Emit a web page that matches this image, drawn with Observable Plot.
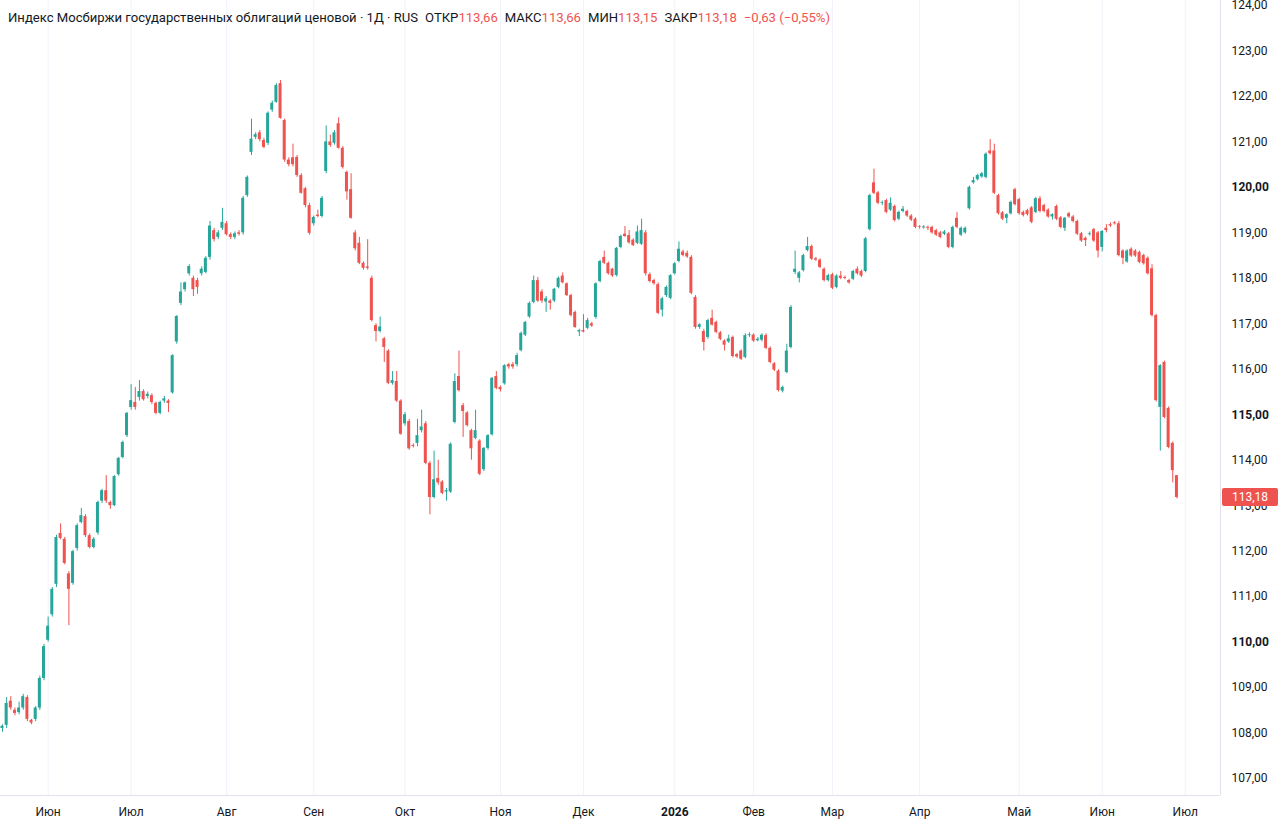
<!DOCTYPE html>
<html><head><meta charset="utf-8">
<script src="https://cdn.jsdelivr.net/npm/d3@7"></script>
<script src="https://cdn.jsdelivr.net/npm/@observablehq/plot@0.6"></script>
<style>
body{margin:0;background:#fff;font-family:Roboto,"Noto Sans",sans-serif;}
#wrap{position:relative;width:1280px;height:831px;overflow:hidden;}
#legend{position:absolute;left:8px;top:10px;font-size:13.1px;line-height:16px;color:#131722;white-space:nowrap;}
#legend .v{color:#ef5350;}
#legend .g{margin-left:7px;}
</style></head><body>
<div id="wrap"><div id="chart"></div>
<div id="legend">Индекс Мосбиржи государственных облигаций ценовой · 1Д · RUS<span class="g">ОТКР<span class="v">113,66</span></span><span class="g">МАКС<span class="v">113,66</span></span><span class="g">МИН<span class="v">113,15</span></span><span class="g">ЗАКР<span class="v">113,18</span></span><span class="g v">−0,63 (−0,55%)</span></div>
</div>
<script>
// OHLC rows [open, high, low, close], one daily candle per row, in trading order
const may2025 = [
[108.1,108.18,108.02,108.15],[108.17,108.78,108.1,108.65],[108.7,108.8,108.5,108.55],[108.5,108.55,108.38,108.43],
[108.45,108.68,108.4,108.55],[108.55,108.85,108.5,108.8],[108.78,108.82,108.25,108.3],[108.28,108.3,108.18,108.22],
[108.3,108.58,108.25,108.55],[108.55,109.25,108.5,109.2],[109.2,109.95,109.15,109.9]];
const jun2025 = [
[110.04,110.55,110.0,110.35],[110.6,111.2,110.55,111.16],[111.27,112.35,111.2,112.3],[112.39,112.6,112.25,112.28],
[112.26,112.3,111.7,111.73],[111.5,111.55,110.36,111.16],[111.29,112.02,111.25,111.99],[112.06,112.6,112.0,112.56],
[112.63,112.94,112.6,112.78],[112.76,112.8,112.3,112.34],[112.34,112.38,112.05,112.08],[112.08,112.3,112.05,112.26],
[112.4,113.1,112.35,113.07],[113.1,113.36,113.05,113.33],[113.33,113.66,113.05,113.1],[113.07,113.1,112.92,113.0],
[113.0,113.66,112.98,113.64],[113.68,114.06,113.65,114.04],[114.06,114.42,114.03,114.39],[114.54,115.05,114.5,115.03]];
const jul2025 = [
[115.16,115.66,115.1,115.31],[115.27,115.6,115.1,115.16],[115.38,115.75,115.3,115.51],[115.51,115.55,115.3,115.33],
[115.4,115.5,115.35,115.45],[115.42,115.46,115.22,115.27],[115.25,115.28,115.0,115.03],[115.03,115.3,115.0,115.27],
[115.3,115.4,115.25,115.35],[115.3,115.33,115.05,115.25],[115.48,116.32,115.45,116.3],[116.6,117.18,116.55,117.16],
[117.45,117.9,117.4,117.7],[117.75,117.92,117.7,117.9],[118.1,118.3,118.05,118.26],[118.0,118.05,117.6,117.75],
[117.95,118.0,117.65,117.8],[118.1,118.25,118.05,118.2],[118.13,118.48,118.1,118.44],[118.46,119.25,118.4,119.15],
[119.05,119.1,118.8,118.85],[118.9,119.05,118.85,119.0],[119.1,119.54,119.05,119.23]];
const aug2025 = [
[119.2,119.25,118.93,118.96],[118.96,119.0,118.85,118.9],[118.9,119.02,118.85,118.98],[119.0,119.05,118.93,118.97],
[119.0,119.8,118.95,119.76],[119.82,120.25,119.78,120.22],[120.77,121.5,120.7,121.06],[121.1,121.2,121.05,121.16],
[121.2,121.25,121.0,121.05],[121.03,121.08,120.85,120.88],[120.97,121.66,120.92,121.63],[121.7,121.9,121.65,121.85],
[121.87,122.28,121.85,122.24],[122.28,122.35,121.5,121.52],[121.47,121.5,120.55,120.6],[120.6,120.65,120.45,120.5],
[120.65,120.95,120.45,120.5],[120.66,120.7,120.22,120.26],[120.26,120.3,119.85,119.87],[119.97,120.0,119.55,119.6],
[119.6,119.65,118.95,118.99]];
const sep2025 = [
[119.2,119.37,119.15,119.34],[119.39,119.5,119.33,119.36],[119.36,119.8,119.33,119.76],[120.35,121.35,120.3,121.0],
[121.0,121.15,120.88,120.92],[120.97,121.25,120.93,121.2],[121.4,121.53,120.84,120.86],[120.86,120.9,120.4,120.44],
[120.33,120.36,119.72,119.9],[119.95,120.3,119.3,119.32],[119.0,119.05,118.6,118.65],[118.77,118.9,118.3,118.33],
[118.33,118.36,118.18,118.22],[118.25,118.85,118.18,118.22],[118.0,118.05,117.04,117.07],[116.96,117.0,116.6,116.83],
[116.83,117.15,116.8,116.93],[116.67,116.7,116.15,116.48],[116.4,116.43,115.66,115.69],[115.69,115.95,115.65,115.75],
[115.73,115.95,115.27,115.3],[115.3,115.33,114.55,114.57]];
const oct2025 = [
[114.8,115.05,114.75,115.0],[114.85,114.9,114.22,114.25],[114.32,114.36,114.27,114.3],[114.37,114.9,114.3,114.54],
[114.65,115.1,114.6,114.73],[114.8,114.85,113.9,113.93],[113.93,113.97,112.8,113.18],[113.18,114.2,113.15,113.57],
[113.6,114.0,113.45,113.5],[113.52,113.55,113.24,113.27],[113.3,113.38,113.1,113.33],[113.3,114.38,113.27,114.35],
[114.83,115.9,114.8,115.73],[115.84,116.4,115.5,115.53],[115.2,115.25,114.5,115.07],[115.04,115.07,114.73,114.76],
[114.65,114.68,114.0,114.25],[114.48,115.1,114.45,114.65],[114.42,114.45,113.66,113.69],[113.79,114.28,113.75,114.26],
[114.26,114.56,114.22,114.54],[114.56,115.82,114.53,115.8],[115.84,115.95,115.55,115.58]];
const nov2025 = [
[115.6,115.63,115.5,115.55],[115.68,116.1,115.65,116.08],[116.1,116.13,116.0,116.05],[116.1,116.15,116.0,116.05],
[116.1,116.35,116.05,116.3],[116.41,116.82,116.38,116.79],[116.75,117.05,116.72,117.03],[117.15,117.48,117.12,117.45],
[117.47,118.05,117.44,117.95],[117.95,118.02,117.47,117.5],[117.7,117.75,117.45,117.5],[117.48,117.6,117.25,117.55],
[117.5,117.53,117.3,117.45],[117.5,117.78,117.47,117.76],[117.8,118.03,117.77,118.0],[118.05,118.12,117.88,117.9],
[117.88,117.9,117.6,117.62],[117.62,117.65,117.15,117.18],[117.25,117.28,116.9,116.92],[116.82,116.88,116.72,116.85]];
const dec2025 = [
[116.85,117.2,116.8,116.82],[116.9,117.12,116.87,117.07],[117.0,117.03,116.92,116.95],[117.14,117.9,117.1,117.88],
[117.93,118.4,117.9,118.37],[118.46,118.6,118.3,118.33],[118.33,118.36,118.07,118.1],[118.2,118.22,118.02,118.05],
[118.06,118.68,118.03,118.66],[118.68,118.95,118.65,118.92],[118.97,119.14,118.9,118.92],[118.94,119.05,118.75,118.78],
[118.84,118.87,118.7,118.72],[118.77,119.15,118.74,119.02],[118.75,119.3,118.72,119.05],[119.0,119.05,118.05,118.1],
[118.08,118.12,117.9,117.93],[117.95,117.98,117.85,117.88],[117.86,117.9,117.2,117.23],[117.3,117.58,117.15,117.55],
[117.62,117.83,117.58,117.8],[117.56,118.08,117.53,118.06]];
const jan2026 = [
[118.1,118.35,118.07,118.32],[118.37,118.8,118.34,118.64],[118.58,118.62,118.47,118.5],[118.55,118.6,118.44,118.47],
[118.46,118.5,117.64,117.67],[117.58,117.62,116.88,116.92],[116.92,117.0,116.88,116.98],[116.83,116.88,116.4,116.59],
[116.7,117.1,116.66,117.07],[117.12,117.3,116.95,116.97],[117.03,117.06,116.78,116.81],[116.8,116.83,116.63,116.66],
[116.62,116.65,116.4,116.53],[116.6,116.75,116.57,116.67],[116.7,116.73,116.25,116.28],[116.32,116.35,116.24,116.27],
[116.4,116.43,116.19,116.22],[116.26,116.78,116.23,116.74],[116.74,116.8,116.7,116.76]];
const feb2026 = [
[116.75,116.78,116.59,116.62],[116.63,116.7,116.6,116.66],[116.64,116.78,116.6,116.75],[116.74,116.78,116.43,116.46],
[116.46,116.49,116.12,116.15],[116.12,116.15,115.95,115.98],[115.96,115.99,115.5,115.53],[115.52,115.63,115.48,115.6],
[115.93,116.55,115.9,116.4],[116.48,117.4,116.45,117.36],[118.13,118.6,118.08,118.2],[118.0,118.15,117.9,118.12],
[118.17,118.53,118.14,118.5],[118.61,118.9,118.58,118.7],[118.7,118.73,118.39,118.42],[118.43,118.46,118.37,118.4],
[118.4,118.43,118.21,118.24],[118.2,118.23,117.92,117.95],[117.95,118.09,117.92,118.06]];
const mar2026 = [
[118.08,118.11,117.75,117.78],[117.8,118.08,117.77,118.05],[118.05,118.15,117.97,118.0],[118.02,118.05,117.97,118.0],
[117.95,117.98,117.87,117.9],[117.98,118.18,117.95,118.15],[118.2,118.25,118.07,118.1],[118.15,118.18,118.02,118.05],
[118.15,118.9,118.12,118.87],[119.07,119.85,119.04,119.82],[120.1,120.4,119.84,119.87],[119.88,119.91,119.62,119.65],
[119.65,119.7,119.6,119.66],[119.71,119.74,119.42,119.45],[119.5,119.77,119.47,119.65],[119.58,119.61,119.24,119.27],
[119.3,119.48,119.27,119.45],[119.47,119.58,119.44,119.52],[119.47,119.5,119.34,119.37],[119.37,119.4,119.25,119.28],
[119.3,119.33,119.09,119.12]];
const apr2026 = [
[119.13,119.16,119.08,119.12],[119.11,119.16,119.08,119.13],[119.12,119.15,119.05,119.1],[119.12,119.15,118.97,119.0],
[119.05,119.08,118.92,118.95],[119.0,119.03,118.87,118.9],[118.97,119.05,118.94,119.02],[118.98,119.01,118.65,118.68],
[118.68,119.15,118.65,119.12],[119.32,119.45,119.09,119.12],[118.95,119.13,118.92,119.1],[119.0,119.13,118.97,119.1],
[119.53,120.03,119.5,120.0],[120.1,120.22,120.07,120.15],[120.17,120.29,120.14,120.26],[120.23,120.33,120.2,120.3],
[120.22,120.76,120.19,120.73],[120.8,121.05,120.71,120.74],[120.8,120.95,119.84,119.87],[119.82,119.85,119.39,119.42],
[119.44,119.47,119.27,119.3],[119.32,119.42,119.2,119.4],[119.42,119.7,119.39,119.67],[119.95,119.98,119.59,119.62]];
const may2026 = [
[119.73,119.76,119.39,119.42],[119.45,119.48,119.35,119.38],[119.49,119.52,119.37,119.4],[119.55,119.58,119.2,119.23],
[119.45,119.78,119.42,119.75],[119.75,119.8,119.44,119.47],[119.6,119.63,119.44,119.47],[119.5,119.53,119.32,119.35],
[119.35,119.42,119.28,119.4],[119.58,119.61,119.27,119.3],[119.33,119.36,119.09,119.12],[119.1,119.34,119.03,119.32],
[119.42,119.45,119.32,119.35],[119.35,119.38,119.22,119.25],[119.25,119.28,118.94,118.97],[118.98,119.01,118.79,118.82],
[118.88,118.91,118.7,118.83],[118.96,119.02,118.93,118.98],[119.07,119.1,118.79,118.82],[119.0,119.03,118.45,118.6]];
const jun2026 = [
[118.68,119.05,118.58,119.03],[119.1,119.18,119.0,119.05],[119.18,119.22,119.12,119.15],[119.22,119.25,119.17,119.2],
[119.2,119.25,118.47,118.5],[118.6,118.63,118.3,118.44],[118.36,118.63,118.33,118.6],[118.64,118.67,118.46,118.49],
[118.6,118.63,118.46,118.49],[118.57,118.6,118.32,118.35],[118.5,118.53,118.29,118.32],[118.44,118.47,118.07,118.1],
[118.21,118.3,117.15,117.18],[117.18,117.21,115.28,115.31],[115.16,116.1,114.2,116.08],[116.15,116.18,114.91,114.94],
[115.14,115.17,114.25,114.28],[114.37,114.4,113.5,113.77],[113.66,113.66,113.15,113.18]];

// x-axis month labels and the candle index where each month starts
const monthLabels = ["Июн","Июл","Авг","Сен","Окт","Ноя","Дек","2026","Фев","Мар","Апр","Май","Июн","Июл"];
const monthIndex  = [11,31,54,75,97,120,140,162,181,200,221,245,265,285];
const boldMonths  = ["2026"];
// y-axis price ticks
const priceTicks = [107,108,109,110,111,112,113,114,115,116,117,118,119,120,121,122,123,124];
const boldPrices = [110,115,120];

const UP = "#26a69a", DOWN = "#ef5350";
const rows = [].concat(may2025,jun2025,jul2025,aug2025,sep2025,oct2025,nov2025,dec2025,jan2026,feb2026,mar2026,apr2026,may2026,jun2026);
const candles = rows.map(([o,h,l,c],i)=>({i,o,h,l,c,col:c>=o?UP:DOWN}));
const last = candles[candles.length-1];
const months = monthLabels.map((t,k)=>({t, idx:monthIndex[k], bold:boldMonths.includes(t)}));
const fmt = v => v.toFixed(2).replace(".", ",");
const XD = [-0.48, 293.5], YD = [106.626, 124.11];
const half = 0.36, minBody = 0.015;

const chart = Plot.plot({
  width:1280, height:831, marginLeft:0, marginRight:60, marginTop:0, marginBottom:36,
  x:{type:"linear", domain:XD, axis:null},
  y:{type:"linear", domain:YD, axis:null},
  style:{fontFamily:"Roboto, 'Noto Sans', sans-serif", background:"#fff", overflow:"visible"},
  marks:[
    Plot.ruleX(months, {x:"idx", stroke:"#f0f3fa", strokeWidth:1}),
    Plot.ruleX(candles, {x:"i", y1:"l", y2:"h", stroke:"col", strokeWidth:1}),
    Plot.rect(candles, {
      x1:d=>d.i-half, x2:d=>d.i+half,
      y1:d=>Math.min(d.o,d.c), y2:d=>Math.max(Math.max(d.o,d.c), Math.min(d.o,d.c)+minBody),
      fill:"col"
    }),
    Plot.ruleX([XD[1]], {stroke:"#e0e3eb"}),
    Plot.ruleY([YD[0]], {stroke:"#e0e3eb"}),
    Plot.text(priceTicks.filter(v=>!boldPrices.includes(v)), {y:d=>d, text:fmt, frameAnchor:"right", textAnchor:"start", lineAnchor:"middle", dx:11, fontSize:12, fill:"#131722"}),
    Plot.text(boldPrices, {y:d=>d, text:fmt, frameAnchor:"right", textAnchor:"start", lineAnchor:"middle", dx:11, fontSize:12, fontWeight:"bold", fill:"#131722"}),
    Plot.text(months.filter(d=>!d.bold), {x:"idx", text:"t", frameAnchor:"bottom", lineAnchor:"middle", dy:17, fontSize:12, fill:"#131722"}),
    Plot.text(months.filter(d=>d.bold), {x:"idx", text:"t", frameAnchor:"bottom", lineAnchor:"middle", dy:17, fontSize:12, fontWeight:"bold", fill:"#131722"}),
    (index, scales, values, dims) => {
      const y = scales.y(last.c);
      const x0 = dims.width - dims.marginRight + 2;
      const g = d3.create("svg:g");
      g.append("rect").attr("x", x0).attr("y", y-9).attr("width", 56).attr("height", 18).attr("rx", 2).attr("fill", DOWN);
      g.append("text").attr("x", x0 + 28).attr("y", y).attr("dy", "0.35em").attr("text-anchor", "middle")
        .attr("fill", "#fff").attr("font-size", 12).text(fmt(last.c));
      return g.node();
    }
  ]
});
document.getElementById("chart").appendChild(chart);
</script>
</body></html>
